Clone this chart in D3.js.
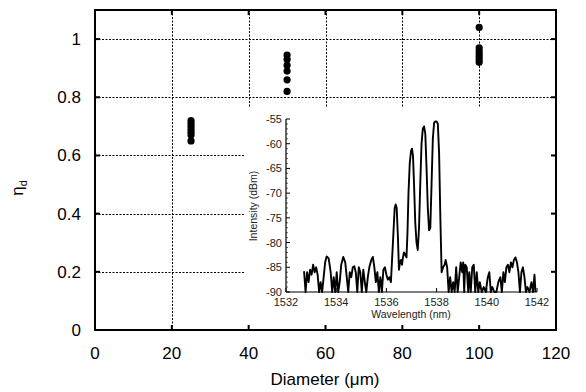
<!DOCTYPE html>
<html><head><meta charset="utf-8">
<script src="https://cdn.jsdelivr.net/npm/d3@7"></script>
<style>body{margin:0;background:#fff}svg{display:block}</style>
</head><body>
<svg id="c" width="586" height="392"></svg>
<script>
// Main chart data
const diamX = [25,25,25,25,25,25,25, 50,50,50,50,50,50, 100,100,100,100,100,100,100];
const etaD  = [0.72,0.71,0.70,0.69,0.68,0.67,0.65, 0.945,0.93,0.91,0.89,0.86,0.82, 1.04,0.97,0.96,0.95,0.94,0.93,0.92];
const xTicks = [0,20,40,60,80,100,120];
const yTicks = [0,0.2,0.4,0.6,0.8,1];
// Inset spectrum data
const wavelength = [1532.72,1532.78,1532.84,1532.90,1532.96,1533.02,1533.08,1533.14,1533.20,1533.26,1533.32,1533.38,1533.44,1533.50,1533.56,1533.62,1533.70,1533.78,1533.84,1533.90,1533.96,1534.02,1534.08,1534.14,1534.20,1534.28,1534.36,1534.42,1534.48,1534.54,1534.60,1534.66,1534.72,1534.78,1534.84,1534.90,1534.96,1535.02,1535.08,1535.14,1535.20,1535.26,1535.32,1535.40,1535.46,1535.52,1535.58,1535.64,1535.70,1535.76,1535.82,1535.88,1535.94,1536.00,1536.06,1536.12,1536.18,1536.22,1536.28,1536.33,1536.37,1536.41,1536.46,1536.50,1536.54,1536.58,1536.62,1536.66,1536.70,1536.75,1536.80,1536.84,1536.88,1536.93,1536.98,1537.02,1537.06,1537.10,1537.15,1537.20,1537.25,1537.30,1537.35,1537.40,1537.45,1537.50,1537.55,1537.60,1537.65,1537.70,1537.75,1537.80,1537.85,1537.90,1537.95,1538.00,1538.05,1538.10,1538.15,1538.20,1538.26,1538.32,1538.36,1538.42,1538.48,1538.54,1538.60,1538.66,1538.72,1538.78,1538.84,1538.90,1538.96,1539.02,1539.06,1539.10,1539.14,1539.20,1539.26,1539.30,1539.36,1539.42,1539.48,1539.54,1539.60,1539.66,1539.72,1539.80,1539.88,1539.96,1540.04,1540.10,1540.16,1540.22,1540.30,1540.38,1540.46,1540.54,1540.60,1540.66,1540.72,1540.78,1540.84,1540.90,1540.96,1541.02,1541.08,1541.14,1541.20,1541.26,1541.32,1541.38,1541.44,1541.50,1541.56,1541.62,1541.70,1541.78,1541.84,1541.90,1541.94];
const intensity = [-85.8,-90,-86,-88,-85.5,-86.5,-84.5,-86,-85,-86.5,-90,-88,-90,-87,-84,-82.8,-83.2,-86,-90,-87,-90,-86,-90,-88,-84.5,-82.9,-84,-87,-90,-86,-87,-85,-84.8,-86,-90,-85,-86,-90,-85.5,-88,-90,-87,-85,-83.5,-82.9,-85,-88,-86,-90,-87,-90,-85.5,-85,-86.5,-87.5,-87,-88,-84,-78,-73,-72.3,-73,-79,-85.5,-84,-83.5,-84.5,-83,-82,-82.5,-83,-78,-70,-64,-61.5,-61,-62.5,-68,-76,-80,-81.5,-77,-68,-60,-57,-56.5,-58,-65,-73,-77.5,-77,-68,-59,-55.8,-55.5,-55.5,-56,-62,-75,-86,-85,-84.5,-83.5,-85,-90,-87,-90,-88,-90,-85,-90,-87,-84,-86,-84,-90,-84.5,-85,-90,-86,-90,-85,-84.5,-90,-86,-90,-88,-90,-89,-90,-87,-86,-90,-89,-90,-90,-88,-87,-90,-86,-88,-85,-84.5,-86,-84,-85,-83.5,-83,-84,-86,-90,-86,-85,-87,-90,-89,-90,-88,-90,-86.5,-90];
const insetXTicks = [1532,1534,1536,1538,1540,1542];
const insetYTicks = [-90,-85,-80,-75,-70,-65,-60,-55];

const svg = d3.select("#c");
const font = "'Liberation Sans', Arial, sans-serif";
const L=95, R=556, T=10, B=330;
const x = d3.scaleLinear().domain([0,120]).range([L,R]);
const y = d3.scaleLinear().domain([0,1.1]).range([B,T]);

// gridlines
const grid = svg.append("g").attr("stroke","#000").attr("stroke-width",1).attr("stroke-dasharray","2,1.5");
grid.selectAll(".gx").data(xTicks.filter(d=>d>0&&d<120)).join("line")
  .attr("x1",d=>Math.round(x(d))+0.5).attr("x2",d=>Math.round(x(d))+0.5).attr("y1",T).attr("y2",B);
grid.selectAll(".gy").data(yTicks.filter(d=>d>0)).join("line")
  .attr("y1",d=>Math.round(y(d))+0.5).attr("y2",d=>Math.round(y(d))+0.5).attr("x1",L).attr("x2",R);

// data points
svg.append("g").selectAll("circle").data(diamX).join("circle")
  .attr("cx",d=>x(d)).attr("cy",(d,i)=>y(etaD[i])).attr("r",3.6).attr("fill","#000");

// inset white background
svg.append("rect").attr("x",245).attr("y",107).attr("width",R-245).attr("height",B-107).attr("fill","#fff");

// frame
svg.append("rect").attr("x",L).attr("y",T).attr("width",R-L).attr("height",B-T)
  .attr("fill","none").attr("stroke","#000").attr("stroke-width",2);

// ticks
const tk = svg.append("g").attr("stroke","#000").attr("stroke-width",2);
yTicks.forEach(d=>{
  tk.append("line").attr("x1",L).attr("x2",L+5).attr("y1",y(d)).attr("y2",y(d));
  tk.append("line").attr("x1",R).attr("x2",R-5).attr("y1",y(d)).attr("y2",y(d));
});
xTicks.forEach(d=>{
  tk.append("line").attr("x1",x(d)).attr("x2",x(d)).attr("y1",B).attr("y2",B-5);
  tk.append("line").attr("x1",x(d)).attr("x2",x(d)).attr("y1",T).attr("y2",T+5);
});

// tick labels
svg.append("g").selectAll("text").data(yTicks).join("text")
  .attr("x",81).attr("y",d=>y(d)+6).attr("text-anchor","end")
  .attr("font-family",font).attr("font-size",17).text(d=>d3.format("")(d));
svg.append("g").selectAll("text").data(xTicks).join("text")
  .attr("x",d=>x(d)).attr("y",359).attr("text-anchor","middle")
  .attr("font-family",font).attr("font-size",17).text(d=>d);

svg.append("text").attr("x",325).attr("y",385).attr("text-anchor","middle")
  .attr("font-family",font).attr("font-size",17).text("Diameter (\u03bcm)");
const yl = svg.append("text").attr("transform","translate(23,188) rotate(-90)").attr("text-anchor","middle")
  .attr("font-family",font).attr("font-size",17);
yl.append("tspan").text("\u03b7");
yl.append("tspan").attr("font-size",11).attr("dy",4).text("d");

// inset
const ix = d3.scaleLinear().domain([1532,1542]).range([286,537]);
const iy = d3.scaleLinear().domain([-90,-55]).range([292,119]);
const ig = svg.append("g");
ig.append("line").attr("x1",ix(1532)).attr("x2",ix(1532)).attr("y1",iy(-90)).attr("y2",iy(-55)).attr("stroke","#000").attr("stroke-width",1.2);
ig.append("line").attr("x1",ix(1532)).attr("x2",ix(1542)).attr("y1",iy(-90)).attr("y2",iy(-90)).attr("stroke","#000").attr("stroke-width",1.2);
insetYTicks.forEach(d=>{
  ig.append("line").attr("x1",ix(1532)).attr("x2",ix(1532)+4).attr("y1",iy(d)).attr("y2",iy(d)).attr("stroke","#000");
});
d3.range(-89,-55,1).filter(d=>d%5!==0).forEach(d=>{
  ig.append("line").attr("x1",ix(1532)).attr("x2",ix(1532)+2).attr("y1",iy(d)).attr("y2",iy(d)).attr("stroke","#000").attr("stroke-width",0.6);
});
insetXTicks.forEach(d=>{
  ig.append("line").attr("x1",ix(d)).attr("x2",ix(d)).attr("y1",iy(-90)).attr("y2",iy(-90)-4).attr("stroke","#000");
});
ig.selectAll(".yl").data(insetYTicks).join("text")
  .attr("x",ix(1532)-4).attr("y",d=>iy(d)+4).attr("text-anchor","end")
  .attr("font-family",font).attr("font-size",11).attr("fill","#222").text(d=>d);
ig.selectAll(".xl").data(insetXTicks).join("text")
  .attr("x",d=>ix(d)).attr("y",306).attr("text-anchor","middle")
  .attr("font-family",font).attr("font-size",11).attr("fill","#222").text(d=>d);
ig.append("text").attr("x",411).attr("y",318).attr("text-anchor","middle")
  .attr("font-family",font).attr("font-size",10.5).attr("fill","#222").text("Wavelength (nm)");
ig.append("text").attr("transform","translate(257,206) rotate(-90)").attr("text-anchor","middle")
  .attr("font-family",font).attr("font-size",10.5).attr("fill","#222").text("Intensity (dBm)");
const line = d3.line().x((d,i)=>ix(d)).y((d,i)=>iy(intensity[i]));
ig.append("path").attr("d",line(wavelength)).attr("fill","none").attr("stroke","#000").attr("stroke-width",1.9).attr("stroke-linejoin","round");
</script>
</body></html>
